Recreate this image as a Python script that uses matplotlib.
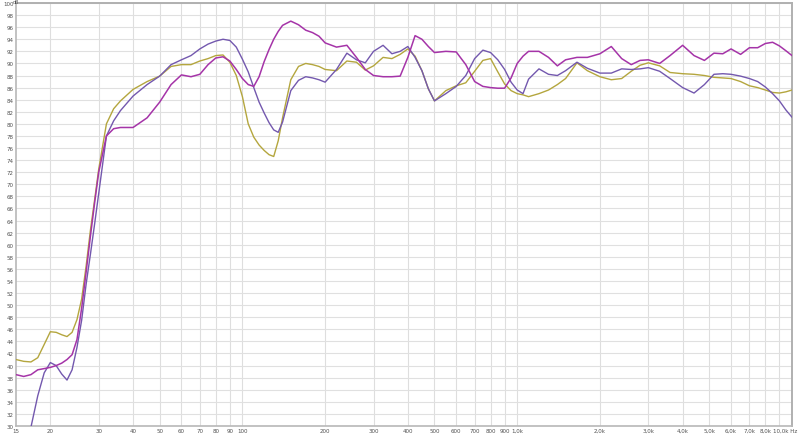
import numpy as np
import matplotlib
matplotlib.use("Agg")
import matplotlib.pyplot as plt

freq_hz = [15, 16, 17, 18, 19, 20, 21, 22, 23, 24, 25, 26, 27, 28, 29, 30, 32, 34, 36, 40,
           45, 50, 55, 60, 65, 70, 75, 80, 85, 90, 95, 100, 105, 110, 115, 120, 125, 130,
           135, 140, 150, 160, 170, 180, 190, 200, 220, 240, 260, 280, 300, 325, 350, 375,
           400, 425, 450, 475, 500, 550, 600, 650, 700, 750, 800, 850, 900, 950, 1000, 1050,
           1100, 1200, 1300, 1400, 1500, 1650, 1800, 2000, 2200, 2400, 2600, 2800, 3000,
           3300, 3600, 4000, 4400, 4800, 5200, 5600, 6000, 6500, 7000, 7500, 8000, 8500,
           9000, 9500, 10000]

olive_db = [41.0, 40.7, 40.6, 41.3, 43.5, 45.6, 45.5, 45.1, 44.8, 45.5, 47.6, 51.0, 56.5,
            62.5, 67.5, 72.5, 80.0, 82.5, 83.8, 85.7, 87.0, 87.9, 89.5, 89.8, 89.8, 90.4,
            90.8, 91.3, 91.4, 90.2, 88.0, 84.5, 80.0, 77.8, 76.5, 75.6, 74.9, 74.6, 77.2,
            81.0, 87.3, 89.5, 90.0, 89.8, 89.5, 89.0, 88.8, 90.4, 90.2, 88.9, 89.6, 91.0,
            90.8, 91.5, 92.4, 91.2, 88.8, 85.8, 83.8, 85.5, 86.3, 86.8, 88.7, 90.5, 90.8,
            88.6, 86.6, 85.5, 85.0, 84.8, 84.5, 85.0, 85.6, 86.5, 87.5, 90.1, 88.8, 87.8,
            87.3, 87.5, 88.7, 89.7, 90.1, 89.6, 88.5, 88.3, 88.2, 88.0, 87.7, 87.6, 87.5,
            87.0, 86.3, 86.0, 85.6, 85.2, 85.1, 85.3, 85.6]

blue_db = [22.0, 26.5, 29.8, 35.0, 38.8, 40.5, 40.0, 38.6, 37.6, 39.3, 43.0, 47.5, 53.5,
           58.5, 63.5, 68.5, 78.0, 80.5, 82.2, 84.6, 86.5, 87.9, 89.8, 90.6, 91.3, 92.4,
           93.2, 93.7, 94.0, 93.8, 92.7, 90.7, 88.6, 86.0, 83.6, 81.8, 80.2, 79.0, 78.6,
           80.3, 85.5, 87.2, 87.8, 87.6, 87.3, 86.9, 89.0, 91.7, 90.6, 90.1, 92.0, 93.0,
           91.6, 92.0, 92.8, 91.0, 88.8, 85.8, 83.8, 85.0, 86.2, 88.0, 90.8, 92.2, 91.8,
           90.6, 89.0, 86.9, 85.6, 85.0, 87.4, 89.1, 88.2, 88.0, 88.8, 90.2, 89.2, 88.4,
           88.4, 89.1, 89.0, 89.1, 89.3, 88.7, 87.5, 86.0, 85.1, 86.5, 88.2, 88.3, 88.2,
           87.9, 87.5, 87.0, 86.1, 85.0, 83.8, 82.3, 81.1]

magenta_db = [38.5, 38.2, 38.5, 39.3, 39.5, 39.7, 40.0, 40.4, 41.0, 41.8, 44.3, 49.5, 55.5,
              61.5, 67.0, 72.0, 78.0, 79.2, 79.4, 79.4, 81.0, 83.6, 86.5, 88.1, 87.8, 88.2,
              89.8, 90.9, 91.1, 90.4, 89.0, 87.5, 86.5, 86.2, 87.8, 90.3, 92.3, 94.0, 95.3,
              96.3, 97.0, 96.4, 95.5, 95.1, 94.5, 93.4, 92.7, 93.0, 91.0, 89.0, 88.0, 87.8,
              87.8, 87.9, 91.0, 94.6, 94.0, 92.8, 91.8, 92.0, 91.9, 89.8, 87.0, 86.2, 86.0,
              85.9, 85.9, 87.6, 90.0, 91.2, 92.0, 92.0, 91.0, 89.6, 90.6, 91.0, 91.0, 91.6,
              92.8, 90.8, 89.8, 90.5, 90.6, 90.0, 91.3, 93.0, 91.3, 90.5, 91.7, 91.6, 92.4,
              91.5, 92.6, 92.6, 93.3, 93.5, 92.9, 92.1, 91.3]

x_ticks = [15, 20, 30, 40, 50, 60, 70, 80, 90, 100, 200, 300, 400, 500, 600, 700, 800, 900,
           1000, 2000, 3000, 4000, 5000, 6000, 7000, 8000]
x_tick_labels = ["15", "20", "30", "40", "50", "60", "70", "80", "90", "100", "200", "300",
                 "400", "500", "600", "700", "800", "900", "1,0k", "2,0k", "3,0k", "4,0k",
                 "5,0k", "6,0k", "7,0k", "8,0k"]
last_x_label = "10,0k Hz"
x_grid = [20, 30, 40, 50, 60, 70, 80, 90, 100, 200, 300, 400, 500, 600, 700, 800, 900,
          1000, 2000, 3000, 4000, 5000, 6000, 7000, 8000, 9000]
y_ticks = list(range(30, 101, 2))

fig = plt.figure(figsize=(8.0, 4.35), dpi=100)
ax = fig.add_axes([16 / 800, 8 / 435, 776 / 800, 423 / 435])
ax.set_xscale("log")
ax.set_xlim(15, 10000)
ax.set_ylim(30, 100)

for g in x_grid:
    ax.axvline(g, color="#dedede", lw=0.8, zorder=0)
for yv in y_ticks:
    ax.axhline(yv, color="#e0e0e0", lw=0.8, zorder=0)

ax.plot(freq_hz, olive_db, color="#b4a63e", lw=1.0, zorder=3)
ax.plot(freq_hz, blue_db, color="#7358ae", lw=1.0, zorder=4)
ax.plot(freq_hz, magenta_db, color="#a534a8", lw=1.1, zorder=5)

ax.set_xticks(x_ticks)
ax.set_xticklabels(x_tick_labels)
ax.xaxis.set_minor_locator(matplotlib.ticker.NullLocator())
ax.set_yticks(y_ticks)
ax.set_yticklabels([str(v) for v in y_ticks])
ax.tick_params(axis="both", length=0, labelsize=4.0, colors="#505050", pad=1.5)

fig.text(797 / 800, 1 - 428.5 / 435, last_x_label, fontsize=4.0, color="#505050",
         ha="right", va="top")

for side in ["left", "bottom"]:
    ax.spines[side].set_color("#b8b8b8")
    ax.spines[side].set_linewidth(1.2)
for side in ["top", "right"]:
    ax.spines[side].set_color("#b0b0b0")
    ax.spines[side].set_linewidth(1.4)

fig.text(15.5 / 800, 1.0, "dB", fontsize=3.4, color="#505050", ha="center", va="top")

fig.savefig("out.png", dpi=100, facecolor="white")
